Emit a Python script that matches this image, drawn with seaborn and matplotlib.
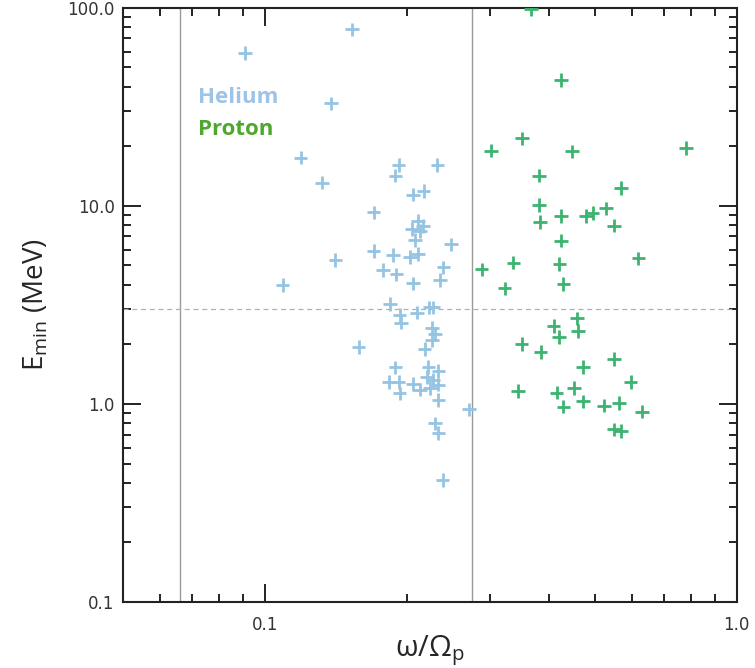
import numpy as np
import pandas as pd
import matplotlib
matplotlib.use("Agg")
import matplotlib.pyplot as plt
import seaborn as sns
from matplotlib.ticker import FixedLocator, LogLocator, NullFormatter

# Helium events: normalised frequency and minimum energy (MeV)
helium_w = [0.0907, 0.153, 0.138, 0.119, 0.132, 0.170, 0.170, 0.141, 0.109, 0.158,
            0.192, 0.189, 0.232, 0.206, 0.217, 0.211, 0.205, 0.216, 0.213, 0.208,
            0.248, 0.187, 0.203, 0.211, 0.178, 0.190, 0.206, 0.239, 0.235, 0.184,
            0.193, 0.210, 0.223, 0.227, 0.194, 0.226, 0.229, 0.226, 0.218, 0.189,
            0.222, 0.233, 0.220, 0.183, 0.192, 0.193, 0.206, 0.213, 0.224, 0.227,
            0.233, 0.233, 0.271, 0.229, 0.233, 0.238]
helium_e = [58.9, 77.8, 32.9, 17.5, 13.1, 9.27, 5.91, 5.33, 3.98, 1.94,
            16.1, 14.2, 16.1, 11.4, 11.9, 8.38, 7.64, 7.91, 7.46, 6.72,
            6.39, 5.65, 5.53, 5.71, 4.74, 4.51, 4.06, 4.89, 4.22, 3.19,
            2.81, 2.89, 3.07, 3.07, 2.57, 2.41, 2.25, 2.10, 1.89, 1.53,
            1.54, 1.47, 1.37, 1.29, 1.29, 1.13, 1.26, 1.18, 1.20, 1.32,
            1.25, 1.046, 0.939, 0.798, 0.711, 0.413]

# Proton events
proton_w = [0.366, 0.424, 0.301, 0.351, 0.448, 0.781, 0.381, 0.568, 0.381, 0.383,
            0.424, 0.479, 0.495, 0.528, 0.550, 0.424, 0.619, 0.336, 0.421, 0.288,
            0.322, 0.429, 0.459, 0.409, 0.461, 0.420, 0.350, 0.384, 0.472, 0.550,
            0.596, 0.344, 0.415, 0.452, 0.429, 0.472, 0.523, 0.563, 0.629, 0.550,
            0.568]
proton_e = [98.0, 43.2, 19.0, 21.9, 18.8, 19.6, 14.2, 12.3, 10.1, 8.30,
            8.88, 8.88, 9.17, 9.70, 7.94, 6.67, 5.43, 5.16, 5.08, 4.78,
            3.83, 4.03, 2.70, 2.47, 2.34, 2.18, 2.01, 1.83, 1.54, 1.68,
            1.29, 1.16, 1.14, 1.20, 0.968, 1.03, 0.98, 1.01, 0.913, 0.744,
            0.73]

species = ["Helium"] * len(helium_w) + ["Proton"] * len(proton_w)
df = pd.DataFrame({
    "w": helium_w + proton_w,
    "E": helium_e + proton_e,
    "species": species,
})

# Reference lines
w_lines = [0.0661, 0.275]
e_line = 3.0

y_ticks = [0.1, 1.0, 10.0, 100.0]
y_ticklabels = ["0.1", "1.0", "10.0", "100.0"]
x_ticks = [0.1, 1.0]
x_ticklabels = ["0.1", "1.0"]

sns.set_theme(style="ticks")
plt.rcParams["font.family"] = ["DejaVu Sans"]

fig = plt.figure(figsize=(7.55, 6.68), dpi=100)
ax = fig.add_axes([0.1629, 0.0988, 0.8129, 0.8897])

palette = {"Helium": "#95c4e3", "Proton": "#3cb371"}

ax.set_xscale("log")
ax.set_yscale("log")

for w in w_lines:
    ax.axvline(w, color="#9a9a9a", lw=1.0, zorder=1)
ax.axhline(e_line, color="#b0b0b0", lw=0.9, ls=(0, (4, 3)), zorder=1)

sns.scatterplot(data=df, x="w", y="E", hue="species", palette=palette,
                marker="+", s=95, linewidth=2.0, legend=False, ax=ax, zorder=3)

ax.set_xlim(0.05, 1.0)
ax.set_ylim(0.1, 100.0)

ax.yaxis.set_major_locator(FixedLocator(y_ticks))
ax.set_yticklabels(y_ticklabels)
ax.xaxis.set_major_locator(FixedLocator(x_ticks))
ax.set_xticklabels(x_ticklabels)
ax.xaxis.set_minor_locator(LogLocator(base=10, subs=np.arange(2, 10)))
ax.yaxis.set_minor_locator(LogLocator(base=10, subs=np.arange(2, 10)))
ax.xaxis.set_minor_formatter(NullFormatter())
ax.yaxis.set_minor_formatter(NullFormatter())

ax.tick_params(which="both", direction="in", top=True, right=True,
               color="#222222", width=1.4, labelsize=12, labelcolor="#333333")
ax.tick_params(which="major", length=13, pad=6)
ax.tick_params(which="minor", length=6)
ax.tick_params(axis="x", which="major", pad=10)

for sp in ax.spines.values():
    sp.set_color("#222222")
    sp.set_linewidth(1.5)

ax.set_xlabel(r"$\mathregular{\omega/\Omega_p}$", fontsize=21,
              family="Open Sans")
ax.xaxis.set_label_coords(0.5, -0.052)
ax.set_ylabel(r"$\mathregular{E_{min}}$ (MeV)", fontsize=20, labelpad=12,
              family="Open Sans")

ax.text(0.122, 0.8495, "Helium", transform=ax.transAxes, fontsize=16,
        fontweight="bold", color="#9dc3e6", family="Open Sans", va="center")
ax.text(0.122, 0.7955, "Proton", transform=ax.transAxes, fontsize=16,
        fontweight="bold", color="#4ea72e", family="Open Sans", va="center")

fig.savefig("out.png", dpi=100)
